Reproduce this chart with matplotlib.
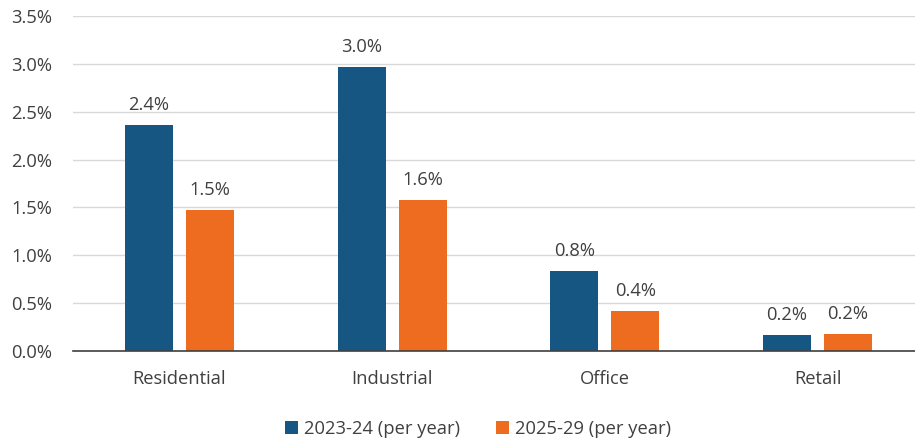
import matplotlib.pyplot as plt
import numpy as np

categories = ["Residential", "Industrial", "Office", "Retail"]
series_2324 = [2.36, 2.97, 0.84, 0.17]
series_2529 = [1.47, 1.58, 0.42, 0.18]
labels_2324 = ["2.4%", "3.0%", "0.8%", "0.2%"]
labels_2529 = ["1.5%", "1.6%", "0.4%", "0.2%"]
yticks = [0, 0.5, 1.0, 1.5, 2.0, 2.5, 3.0, 3.5]

blue = "#155782"
orange = "#ED6C20"
text_color = "#404040"
fs = 13.2

plt.rcParams["font.family"] = ["Open Sans", "DejaVu Sans"]

fig = plt.figure(figsize=(9.15, 4.41), dpi=100)
ax = fig.add_axes([73 / 915, 1 - 351 / 441, (915 - 73) / 915, (351 - 16) / 441])

x = np.arange(len(categories))
w = 0.2256
off = 0.1433
b1 = ax.bar(x - off, series_2324, w, color=blue, label="2023-24 (per year)", zorder=3)
b2 = ax.bar(x + off, series_2529, w, color=orange, label="2025-29 (per year)", zorder=3)

for bars, labs in [(b1, labels_2324), (b2, labels_2529)]:
    for rect, lab in zip(bars, labs):
        ax.annotate(lab, (rect.get_x() + rect.get_width() / 2, rect.get_height()),
                    xytext=(0, 11), textcoords="offset pixels", ha="center", va="bottom",
                    fontsize=fs, color=text_color)

ax.set_xlim(-0.5, 3.458)
ax.set_ylim(0, 3.5)
ax.set_yticks(yticks)
ax.set_yticklabels([f"{t:.1f}%" for t in yticks])
ax.set_xticks(x)
ax.set_xticklabels(categories)
ax.tick_params(axis="both", length=0, labelsize=fs, colors=text_color)
ax.tick_params(axis="x", pad=14)
ax.tick_params(axis="y", pad=15)
ax.grid(axis="y", color="#d9d9d9", linewidth=1, zorder=0)
for s in ["top", "right", "left"]:
    ax.spines[s].set_visible(False)
ax.spines["bottom"].set_color("#404040")
ax.spines["bottom"].set_linewidth(1.2)
ax.spines["bottom"].set_zorder(4)

fig.legend(handles=[b1, b2], loc="center", bbox_to_anchor=(478 / 915, 1 - 429 / 441),
           ncol=2, frameon=False, fontsize=fs, handlelength=0.7, handleheight=0.7,
           handletextpad=0.3, columnspacing=2.0, labelcolor=text_color)

fig.savefig("out.png", dpi=100)
